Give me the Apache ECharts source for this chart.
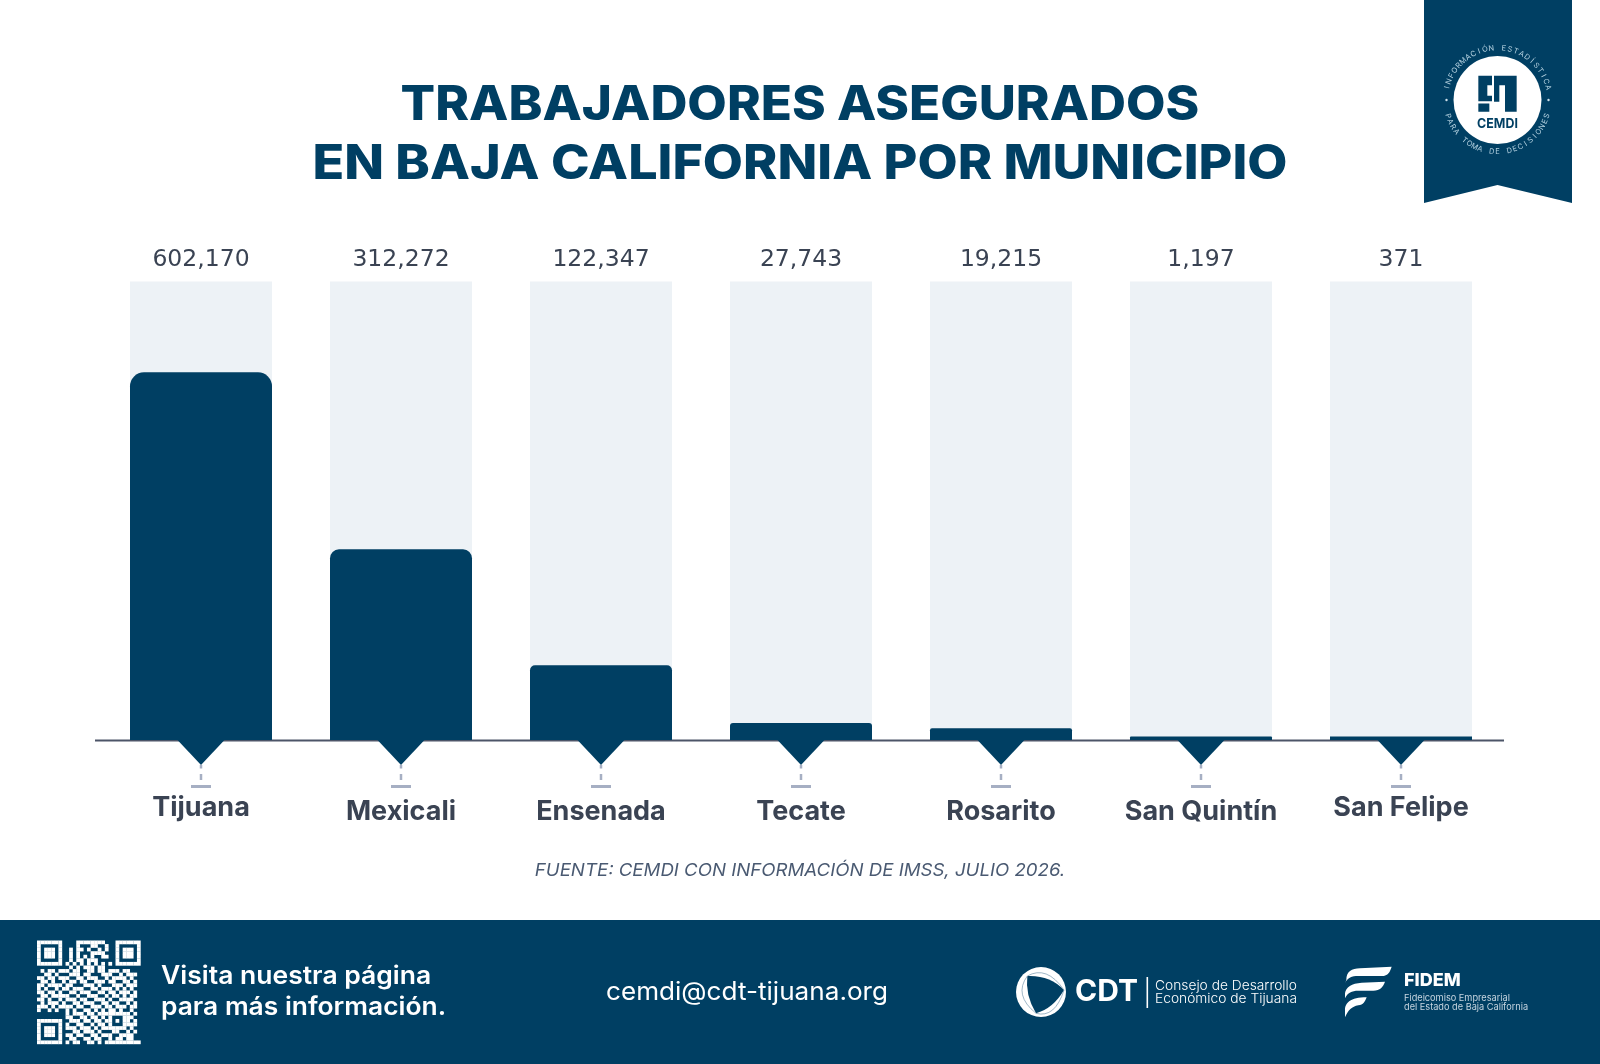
<!DOCTYPE html>
<html><head><meta charset="utf-8">
<style>html,body{margin:0;padding:0;background:#fff}#c{width:1600px;height:1064px}</style>
<script src="https://cdn.jsdelivr.net/npm/echarts@6/dist/echarts.min.js"></script></head>
<body><div id="c"></div>
<script>
const categories = ['Tijuana','Mexicali','Ensenada','Tecate','Rosarito','San Quintín','San Felipe'];
const workers = [602170,312272,122347,27743,19215,1197,371];
const raisedLabels = ['Tijuana','San Felipe'];
const cornerRadii = [14,9,5,3,2,1,0];
const titleLines = ['TRABAJADORES ASEGURADOS','EN BAJA CALIFORNIA POR MUNICIPIO'];
const sourceText = 'FUENTE: CEMDI CON INFORMACIÓN DE IMSS, JULIO 2026.';
const qrRows = [
'11111110000111111110001111111',
'10000010000100011001001000001',
'10111010010110100101001011101',
'10111010010100011110001011101',
'10111010010101010011001011101',
'10000010010110111000001000001',
'11111110101010101010101111111',
'00000000010101110110000000000',
'01011011101100110110111011000',
'00110100011101100011100101110',
'11011011100110111001011110100',
'01101001011011001110110011010',
'11011110110001110100011101110',
'10100101101110011011101010100',
'11011010011011100110110111010',
'01101111100100111001011010110',
'11010010111011001110100111100',
'01011101001101110011011001010',
'11101011110110011101101110110',
'10010100101001101010110100100',
'00000000101110110111111111010',
'00000000110011011010100011100',
'11111110011101101101101011010',
'10000010100110010110100011110',
'10111010111011101011111110100',
'10111010001101110100011001010',
'10111010110110011011100111100',
'10000010011001101100101101100',
'11111110101100110101111111111'
];
const NAVY='#003f63', INK='#3a4353', PALE='#edf2f6', TICK='#a6afc3';
const FONT='Inter';

const reg=(name,d)=>echarts.graphic.registerShape(name,echarts.graphic.extendPath(d,{}));
reg('cemdiMark','M25 22H66V50H52V82H66V98H25ZM25 105H58V130H25ZM72 22H140V130H105V50H88V100H72Z');
reg('cdtHole','M52 48Q120 45 162 90Q130 145 78 160Q45 105 52 48Z');
reg('cdtLines','M52 48Q110 15 162 90M162 90Q135 175 78 160M78 160Q10 105 52 48');
reg('fidemMark','M34 60C34 35 50 25 75 25L170 20C165 35 160 48 140 48L70 48C50 48 38 52 30 70ZM30 100C32 82 50 70 80 68L150 65C145 80 135 92 115 92L70 92C50 92 38 98 30 115ZM30 150C30 130 45 112 95 112C90 125 85 135 70 136C50 140 40 150 30 172Z');

const g=[];
const txt=(text,x,y,o,sx)=>g.push({type:'text',x,y,scaleX:sx||1,z:20,style:Object.assign({text,fontFamily:FONT,fill:'#fff',align:'left',verticalAlign:'middle'},o||{})});
txt(titleLines[0],800,106,{align:'center',fontSize:47.5,fontWeight:800,fill:NAVY},1.077);
txt(titleLines[1],800,165,{align:'center',fontSize:47.5,fontWeight:800,fill:NAVY},1.095);
g.push({type:'rect',shape:{x:0,y:920,width:1600,height:144},style:{fill:NAVY},z:1});
g.push({type:'line',shape:{x1:95,y1:740.5,x2:1504,y2:740.5},style:{stroke:'#4c5568',lineWidth:1.8},z:1});
g.push({type:'polygon',shape:{points:[[1424,0],[1572,0],[1572,203],[1497.5,185],[1424,203]]},style:{fill:NAVY},z:1});
g.push({type:'circle',shape:{cx:1497.5,cy:100,r:44},style:{fill:'#fff'},z:2});
g.push({type:'cemdiMark',x:1470,y:68.5,scaleX:1/3,scaleY:1/3,z:3,style:{fill:NAVY}});
txt('CEMDI',1497.5,123.5,{align:'center',fontSize:13.5,fontWeight:700,fill:NAVY},.92);
const arc=(s,sign,span)=>{const n=s.length;[...s].forEach((ch,i)=>{const t=(-span+2*span*i/(n-1))*Math.PI/180;
 g.push({type:'text',x:1497.5+52*Math.sin(t),y:100-sign*52*Math.cos(t),rotation:-sign*t,z:3,style:{text:ch,fontFamily:FONT,fontSize:7.5,fill:'#b4d2e1',align:'center',verticalAlign:'middle'}});});};
arc('INFORMACIÓN ESTADÍSTICA',1,76);
arc('PARA TOMA DE DECISIONES',-1,72);
g.push({type:'circle',shape:{cx:1446.5,cy:100,r:1.2},style:{fill:'#cfe0ea'},z:3});
g.push({type:'circle',shape:{cx:1548.5,cy:100,r:1.2},style:{fill:'#cfe0ea'},z:3});
const M=103.5/29;
qrRows.forEach((r,j)=>{[...r].forEach((b,i)=>{if(b==='1')g.push({type:'rect',shape:{x:37+i*M,y:940.5+j*M,width:M+.2,height:M+.2},style:{fill:'#fff'},z:3});});});
txt('Visita nuestra página',161,976,{fontSize:25,fontWeight:600},1.06);
txt('para más información.',161,1007,{fontSize:25,fontWeight:600},1.055);
txt('cemdi@cdt-tijuana.org',606,992,{fontSize:25,fontWeight:400},1.045);
g.push({type:'circle',shape:{cx:1041,cy:992,r:25},style:{fill:'#fff'},z:3});
g.push({type:'cdtHole',x:1010,y:960,scaleX:1/3,scaleY:1/3,z:4,style:{fill:NAVY}});
g.push({type:'cdtLines',x:1010,y:960,scaleX:1/3,scaleY:1/3,z:4,style:{fill:null,stroke:'#6f93aa',lineWidth:2}});
txt('CDT',1075,992,{fontSize:30,fontWeight:700});
g.push({type:'rect',shape:{x:1146.5,y:977,width:1.6,height:31},style:{fill:'#fff'},z:3});
txt('Consejo de Desarrollo',1155,986,{fontSize:13.5,fontWeight:300},1.02);
txt('Económico de Tijuana',1155,999,{fontSize:13.5,fontWeight:300},1.02);
g.push({type:'fidemMark',x:1335,y:960,scaleX:1/3,scaleY:1/3,z:3,style:{fill:'#fff'}});
txt('FIDEM',1404,981,{fontSize:18,fontWeight:800});
txt('Fideicomiso Empresarial',1404,998,{fontSize:9.2,fill:'#c6d5e0'});
txt('del Estado de Baja California',1404,1007.5,{fontSize:9.2,fill:'#c6d5e0'});
txt(sourceText,800,871,{align:'center',fontSize:17.5,fontStyle:'italic',fill:'#4a5a72'},1.065);

const option={
 animation:false,
 backgroundColor:'#fff',
 grid:{left:101,width:1400,top:281.5,height:458.5},
 xAxis:[
  {type:'category',data:categories.map(c=>({value:c,textStyle:{padding:[raisedLabels.includes(c)?4:8,0,0,0]}})),
   axisLine:{show:false},axisTick:{show:false},
   axisLabel:{interval:0,margin:50.5,fontFamily:FONT,fontSize:27,fontWeight:700,color:INK,verticalAlign:'top'}},
  {type:'category',position:'top',data:workers.map(v=>v.toLocaleString('en-US')),
   axisLine:{show:false},axisTick:{show:false},
   axisLabel:{interval:0,margin:10,fontFamily:'DejaVu Sans',fontSize:23.5,fontWeight:400,color:INK}}
 ],
 yAxis:{type:'value',min:0,max:751000,show:false,splitLine:{show:false}},
 series:[
  {type:'bar',data:workers.map((v,i)=>({value:v,itemStyle:{borderRadius:[cornerRadii[i],cornerRadii[i],0,0]}})),barWidth:142,barMinHeight:3.5,showBackground:true,
   backgroundStyle:{color:PALE},itemStyle:{color:NAVY},z:2},
  {type:'custom',clip:false,z:3,data:categories.map(c=>[c,0]),encode:{x:0,y:1},
   renderItem:(p,api)=>{const [x,y]=api.coord([api.value(0),0]);return {type:'group',children:[
     {type:'polygon',shape:{points:[[x-23.5,y],[x+23.5,y],[x,y+25]]},style:{fill:NAVY}},
     {type:'rect',shape:{x:x-1.25,y:y+25,width:2.5,height:3.5},style:{fill:TICK}},
     {type:'rect',shape:{x:x-1.25,y:y+34,width:2.5,height:6},style:{fill:TICK}},
     {type:'rect',shape:{x:x-10,y:y+45,width:20,height:3},style:{fill:TICK}}
   ]};}}
 ],
 graphic:{elements:g}
};
echarts.init(document.getElementById('c'),null,{renderer:'canvas'}).setOption(option);
</script></body></html>
